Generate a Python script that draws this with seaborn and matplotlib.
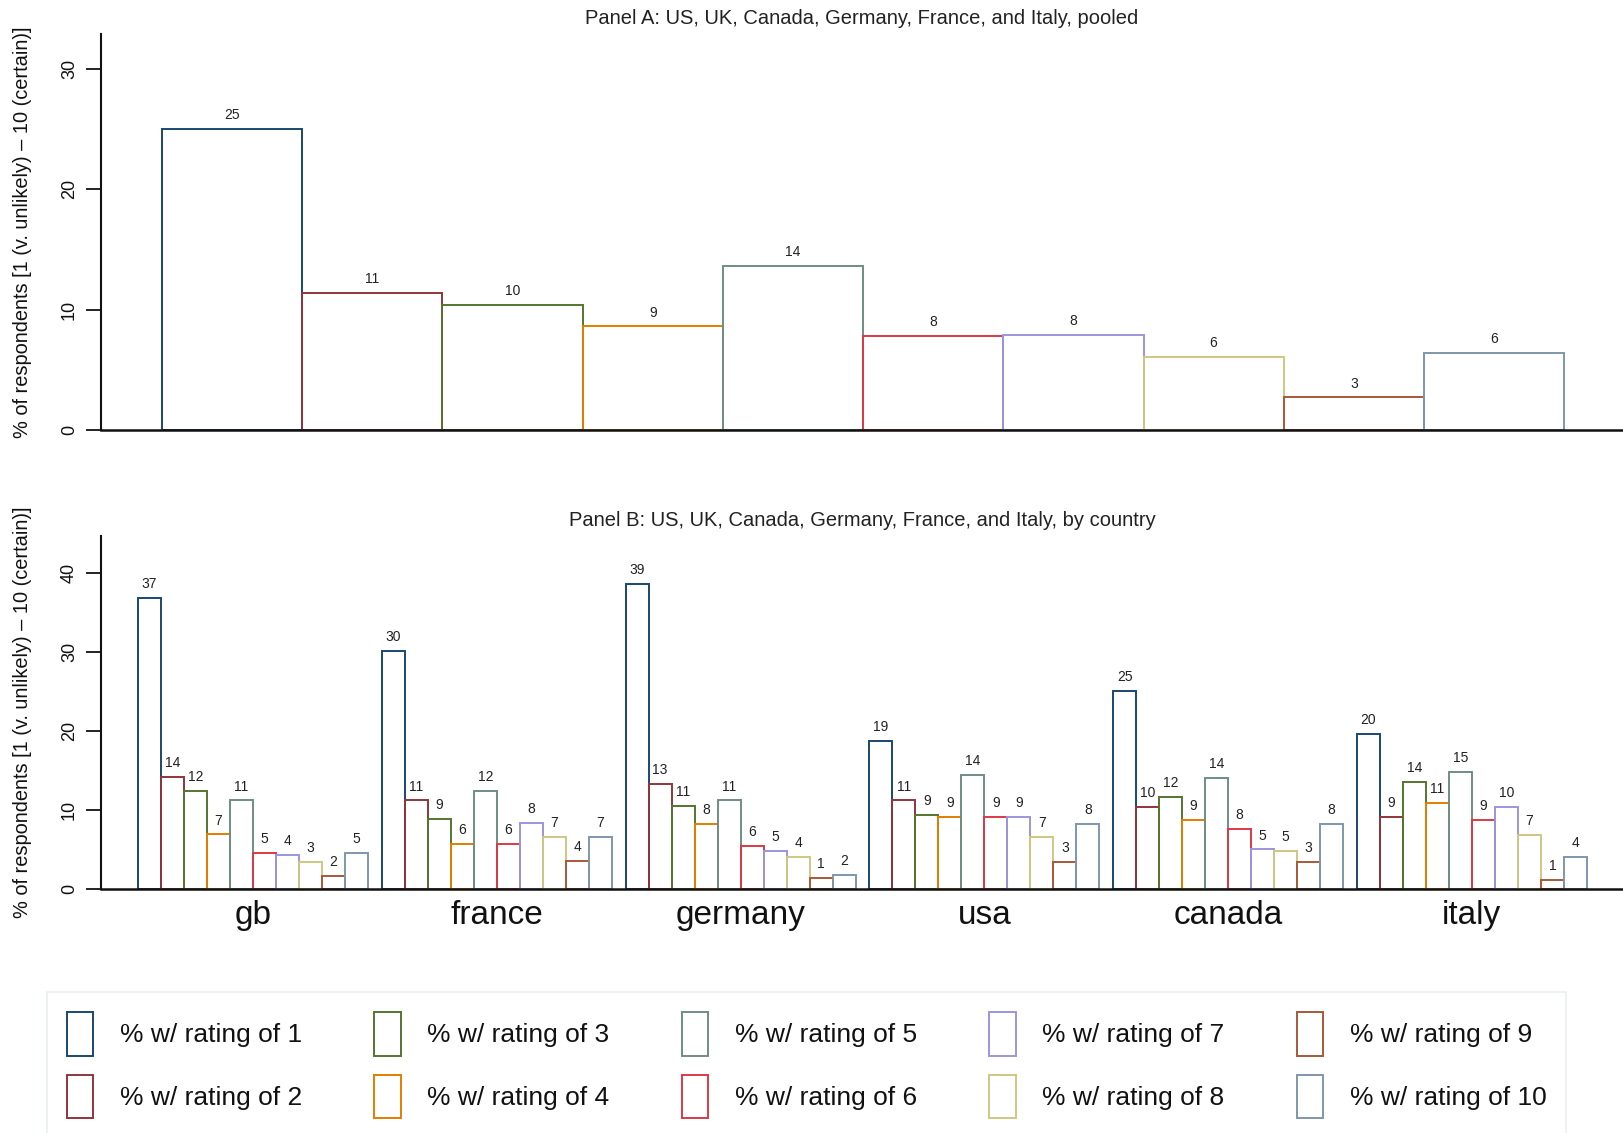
import numpy as np
import pandas as pd
import matplotlib
matplotlib.use("Agg")
import matplotlib.pyplot as plt
import seaborn as sns

# ---------------- data ----------------
rating_labels = ["% w/ rating of 1", "% w/ rating of 2", "% w/ rating of 3", "% w/ rating of 4",
                 "% w/ rating of 5", "% w/ rating of 6", "% w/ rating of 7", "% w/ rating of 8",
                 "% w/ rating of 9", "% w/ rating of 10"]
pooled = [25.0, 11.4, 10.4, 8.6, 13.6, 7.8, 7.9, 6.1, 2.7, 6.4]

countries = ["gb", "france", "germany", "usa", "canada", "italy"]
gb = [36.8, 14.2, 12.4, 6.9, 11.2, 4.6, 4.3, 3.4, 1.6, 4.6]
france = [30.1, 11.2, 8.9, 5.7, 12.4, 5.7, 8.4, 6.6, 3.6, 6.6]
germany = [38.6, 13.3, 10.5, 8.2, 11.2, 5.5, 4.8, 4.1, 1.4, 1.8]
usa = [18.7, 11.2, 9.4, 9.1, 14.4, 9.1, 9.1, 6.6, 3.4, 8.2]
canada = [25.1, 10.4, 11.6, 8.7, 14.1, 7.6, 5.0, 4.8, 3.4, 8.2]
italy = [19.6, 9.1, 13.6, 10.9, 14.8, 8.7, 10.4, 6.8, 1.1, 4.1]

colors = ["#1a476f", "#90353b", "#55752f", "#e37e00", "#6e8e84",
          "#d93a46", "#9a95de", "#cfc782", "#a8583a", "#7f96ac"]

title_a = "Panel A: US, UK, Canada, Germany, France, and Italy, pooled"
title_b = "Panel B: US, UK, Canada, Germany, France, and Italy, by country"
ylabel = "% of respondents [1 (v. unlikely) \u2013 10 (certain)]"

# ---------------- style ----------------
sns.set_theme(style="ticks")
plt.rcParams["font.family"] = ["Liberation Sans", "DejaVu Sans"]

palette = dict(zip(rating_labels, colors))

df_a = pd.DataFrame({"rating": rating_labels, "value": pooled})
country_values = {"gb": gb, "france": france, "germany": germany,
                  "usa": usa, "canada": canada, "italy": italy}
rows = []
for c in countries:
    for r, v in zip(rating_labels, country_values[c]):
        rows.append({"country": c, "rating": r, "value": v})
df_b = pd.DataFrame(rows)

fig = plt.figure(figsize=(16.23, 11.33), dpi=100)
ax_a = fig.add_axes([0.0622, 0.6205, 0.9378, 0.3495])
ax_b = fig.add_axes([0.0622, 0.2154, 0.9378, 0.3116])

LW = 1.4
TXT = "#222222"

def fmt_labels(container):
    return [f"{np.floor(b.get_height() + 0.5):.0f}" for b in container]

# Panel A
sns.barplot(data=df_a, x="rating", y="value", hue="rating", palette=palette,
            hue_order=rating_labels, order=rating_labels, fill=False, width=1.0,
            linewidth=LW, legend=False, ax=ax_a, errorbar=None)
for cont in ax_a.containers:
    ax_a.bar_label(cont, labels=fmt_labels(cont), padding=5, fontsize=10, color=TXT)
ax_a.set_xlim(-0.936, 9.92)
ax_a.set_ylim(0, 32.9)
ax_a.set_yticks([0, 10, 20, 30])
ax_a.set_xticks([])
ax_a.set_xlabel("")
ax_a.set_title(title_a, fontsize=14.5, color=TXT, pad=7)

# Panel B
sns.barplot(data=df_b, x="country", y="value", hue="rating", palette=palette,
            hue_order=rating_labels, order=countries, fill=False, width=0.943,
            linewidth=LW, ax=ax_b, errorbar=None)
if ax_b.get_legend() is not None:
    ax_b.get_legend().remove()
for cont in ax_b.containers:
    ax_b.bar_label(cont, labels=fmt_labels(cont), padding=5, fontsize=10, color=TXT)
ax_b.set_xlim(-0.624, 5.62)
ax_b.set_ylim(0, 44.7)
ax_b.set_yticks([0, 10, 20, 30, 40])
ax_b.set_xlabel("")
ax_b.set_title(title_b, fontsize=14.5, color=TXT, pad=7)
ax_b.tick_params(axis="x", length=0, pad=8, labelsize=24, labelcolor="#111111")

for ax in (ax_a, ax_b):
    sns.despine(ax=ax)
    ax.spines["left"].set_linewidth(1.5)
    ax.spines["bottom"].set_linewidth(1.8)
    ax.spines["left"].set_color("#111111")
    ax.spines["bottom"].set_color("#111111")
    ax.tick_params(axis="y", length=10.5, width=1.3, labelsize=13, pad=6,
                   color="#111111", labelcolor="#111111")
    for t in ax.get_yticklabels():
        t.set_rotation(90)
        t.set_va("center")
    ax.set_ylabel(ylabel, fontsize=14.4, color="#111111")
    ax.yaxis.set_label_coords(-0.045, 0.5)
    ax.set_facecolor("white")

# Legend
handles = [matplotlib.patches.Patch(facecolor="none", edgecolor=c, linewidth=LW)
           for c in colors]
leg = fig.legend(handles, rating_labels, ncol=5, loc="upper left",
                 bbox_to_anchor=(0.029, 0.0, 0.936, 0.1245), mode="expand",
                 borderaxespad=0.0,
                 frameon=True, fancybox=False, edgecolor="#e4eaea",
                 prop={"size": 19},
                 handlelength=1.0, handleheight=2.18, handletextpad=1.0,
                 labelspacing=0.72, borderpad=0.75)
leg.get_frame().set_linewidth(1.2)
for t in leg.get_texts():
    t.set_color("#111111")

fig.savefig("out.png", dpi=100, facecolor="white")
